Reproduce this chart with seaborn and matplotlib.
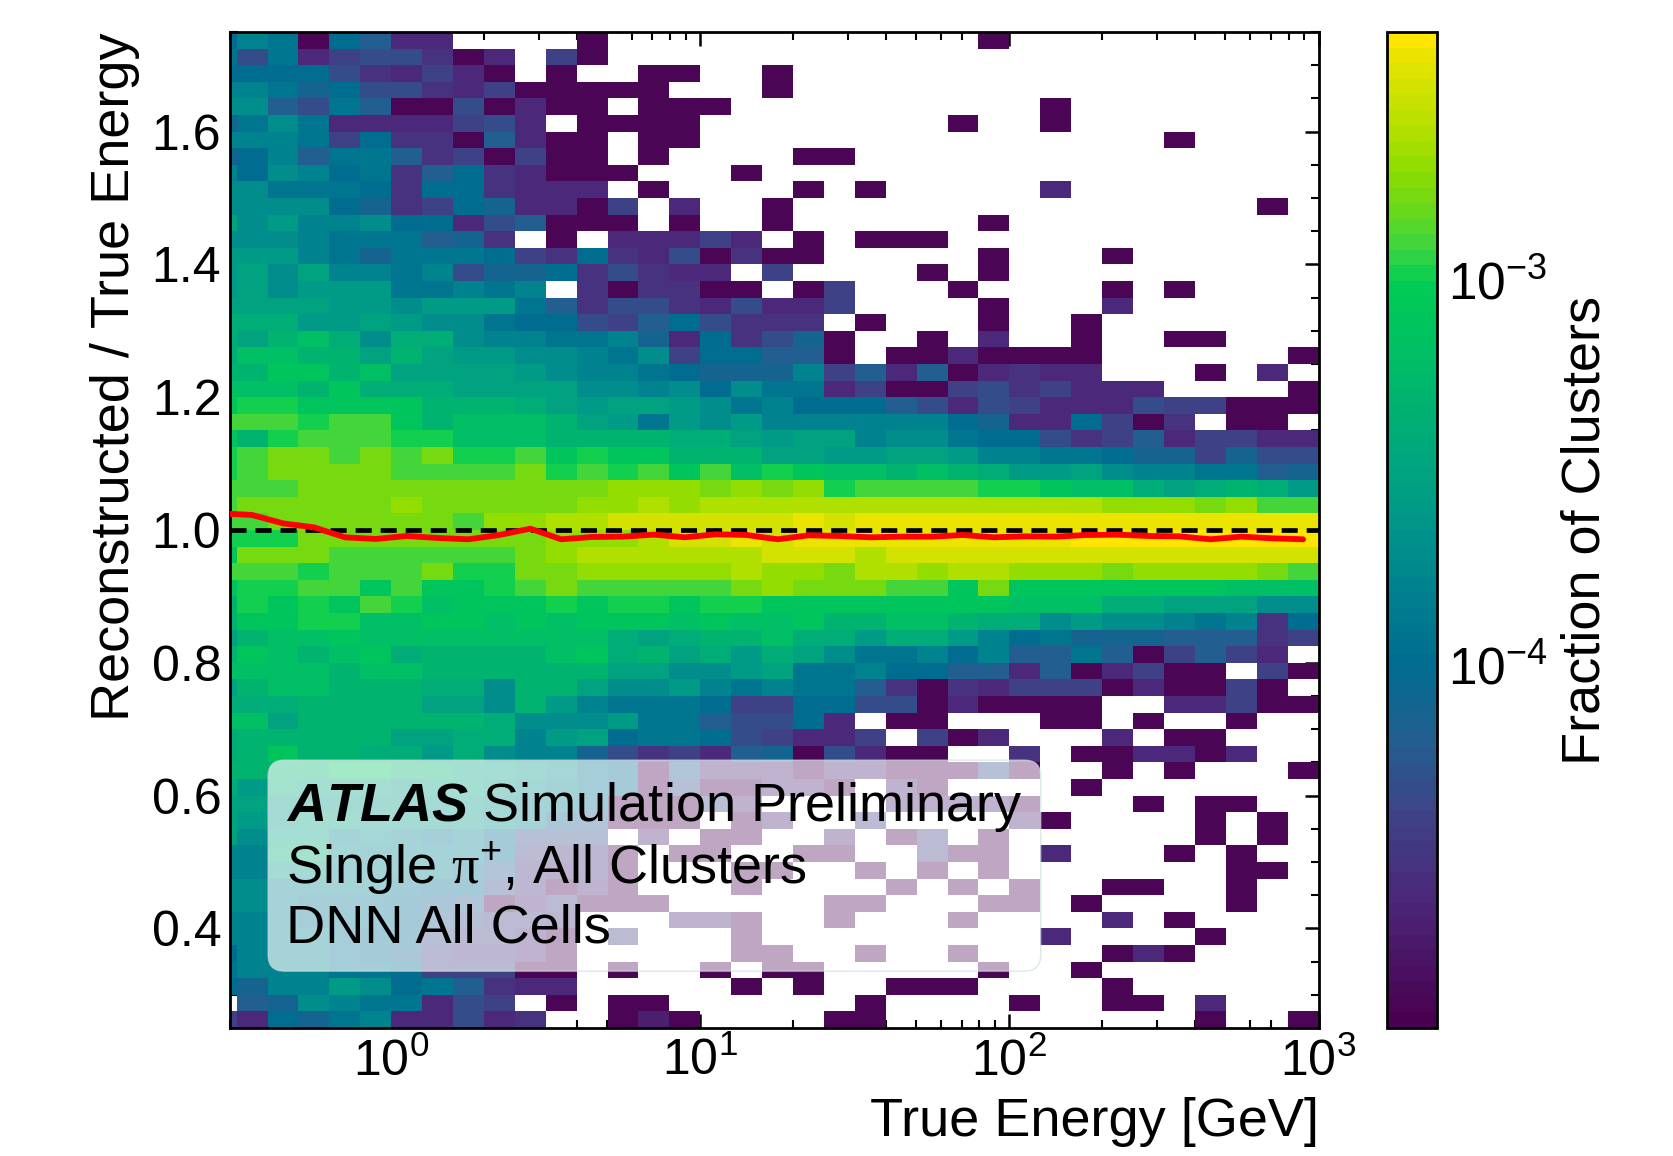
import matplotlib
matplotlib.use("Agg")
import matplotlib.pyplot as plt
import numpy as np
import pandas as pd
import seaborn as sns
from matplotlib.colors import LinearSegmentedColormap, LogNorm
from matplotlib.ticker import AutoMinorLocator, LogLocator, MultipleLocator, NullFormatter

# log10(fraction of clusters) * -10 for each cell, top row first, 0 = empty bin
log_fraction_tenths = [
    [40,38,39,49,40,42,46,46,0,0,0,0,49,0,0,0,0,0,0, 0,0,0,0,0,0,49,0,0,0,0,0,0,0,0,0,0],
    [39,43,39,46,44,43,43,45,49,46,0,44,49,0,0,0,0,0,0, 0,0,0,0,0,0,0,0,0,0,0,0,0,0,0,0,0],
    [40,40,40,40,43,45,46,44,46,49,0,49,0,0,49,49,0,0,49, 0,0,0,0,0,0,0,0,0,0,0,0,0,0,0,0,0],
    [38,38,39,41,40,43,43,45,46,44,49,49,49,49,49,0,0,0,49, 0,0,0,0,0,0,0,0,0,0,0,0,0,0,0,0,0],
    [37,37,42,43,39,42,49,49,43,49,46,49,49,0,49,49,49,0,0, 0,0,0,0,0,0,0,0,49,0,0,0,0,0,0,0,0],
    [41,39,37,39,46,46,46,46,44,43,46,0,49,49,49,49,0,0,0, 0,0,0,0,0,49,0,0,49,0,0,0,0,0,0,0,0],
    [38,38,38,39,44,40,45,45,49,42,46,49,49,0,49,49,0,0,0, 0,0,0,0,0,0,0,0,0,0,0,0,49,0,0,0,0],
    [41,40,38,42,39,39,42,45,44,49,44,49,49,0,49,0,0,0,0, 49,49,0,0,0,0,0,0,0,0,0,0,0,0,0,0,0],
    [38,40,37,38,40,39,45,42,40,45,46,49,49,49,0,0,0,49,0, 0,0,0,0,0,0,0,0,0,0,0,0,0,0,0,0,0],
    [37,37,39,39,39,40,45,40,40,45,46,46,46,0,49,0,0,0,0, 49,0,49,0,0,0,0,0,46,0,0,0,0,0,0,0,0],
    [37,37,37,37,40,41,45,44,40,41,46,46,49,44,0,46,0,0,49, 0,0,0,0,0,0,0,0,0,0,0,0,0,0,0,49,0],
    [35,37,36,38,38,37,40,40,46,43,42,49,49,49,0,49,0,0,49, 0,0,0,0,0,0,49,0,0,0,0,0,0,0,0,0,0],
    [37,37,37,38,39,39,39,42,41,45,0,49,0,46,46,46,44,46,0, 49,0,49,49,49,0,0,0,0,0,0,0,0,0,0,0,0],
    [36,36,36,38,39,41,39,39,39,40,44,45,40,45,46,43,49,45,49, 49,0,0,0,0,0,49,0,0,0,49,0,0,0,0,0,0],
    [36,35,37,35,38,38,39,38,43,41,41,40,45,43,45,46,46,0,44, 0,0,0,0,49,0,49,0,0,0,0,0,0,0,0,0,0],
    [36,35,37,36,36,36,39,39,38,39,38,0,45,49,45,45,49,49,0, 49,44,0,0,0,49,0,0,0,0,49,0,49,0,0,0,0],
    [35,35,35,35,36,36,37,36,36,36,39,42,45,43,43,45,46,43,46, 46,44,0,0,0,0,49,0,0,0,46,0,0,0,0,0,0],
    [34,34,34,36,36,35,36,37,37,39,40,40,43,44,42,40,43,45,45, 45,0,49,0,0,0,49,0,0,49,0,0,0,0,0,0,0],
    [34,35,33,32,34,37,34,34,37,38,38,39,39,38,41,46,40,45,43, 41,49,0,0,49,0,46,0,0,49,0,0,49,49,0,0,0],
    [34,32,32,33,33,35,33,35,36,36,37,37,38,39,37,44,40,40,42, 42,49,0,49,49,46,49,49,49,49,0,0,0,0,0,0,49],
    [33,33,31,31,33,32,35,35,35,35,36,37,38,38,39,40,41,41,41, 38,44,42,46,42,49,46,45,46,46,0,0,0,49,0,46,0],
    [32,32,32,33,31,34,34,34,35,35,35,35,37,37,38,37,40,37,39, 39,46,44,49,49,44,43,45,44,46,46,46,0,0,0,0,49],
    [31,30,30,31,31,31,31,33,33,33,34,35,36,35,35,36,37,39,38, 40,40,40,42,43,46,43,44,46,46,46,43,44,44,49,49,49],
    [29,29,29,30,29,29,31,33,32,32,32,33,35,36,39,36,37,36,38, 38,38,38,38,38,40,41,46,46,40,44,49,45,0,49,49,0],
    [31,33,30,29,29,29,30,30,32,32,32,33,33,33,33,34,34,35,36, 35,35,38,37,37,39,40,40,43,45,44,42,46,44,44,46,46],
    [30,29,28,28,29,28,29,28,30,30,29,31,30,31,31,33,33,33,35, 35,36,36,35,35,36,38,38,39,39,40,41,41,44,41,43,43],
    [30,29,28,28,28,28,29,29,29,29,28,30,29,30,29,31,29,32,30, 31,32,32,33,32,33,34,36,36,35,37,38,38,39,39,42,41],
    [29,29,29,28,28,28,28,28,28,28,28,28,28,27,27,27,28,27,28, 27,30,29,29,29,29,30,30,31,32,32,34,35,34,33,34,36],
    [29,28,28,28,28,28,27,28,28,28,28,28,27,27,26,27,26,26,26, 26,26,26,26,26,26,26,26,26,26,27,27,27,28,27,29,29],
    [29,29,28,28,28,28,28,28,29,27,27,26,26,25,25,25,25,25,25, 24,25,24,24,24,24,24,24,24,24,24,24,24,24,24,24,24],
    [30,30,30,28,28,28,28,28,28,28,28,27,27,27,26,25,25,24,25, 24,24,24,24,24,24,24,24,24,23,23,23,23,23,23,23,23],
    [31,28,28,28,29,29,29,29,29,29,28,27,26,26,26,26,26,26,25, 25,25,26,25,25,25,25,25,25,25,25,25,25,25,25,25,25],
    [29,29,29,30,29,29,29,28,30,30,28,28,27,27,27,27,27,26,27, 27,28,26,26,27,26,26,27,27,27,28,27,27,27,27,28,29],
    [31,30,30,29,29,31,29,31,31,30,29,28,29,29,29,29,29,28,27, 28,28,28,29,29,31,28,31,31,31,31,31,31,31,32,32,32],
    [33,30,31,30,31,29,30,32,31,31,31,30,31,30,30,31,30,30,31, 31,31,31,31,31,31,31,32,32,32,34,34,35,35,35,37,37],
    [33,31,31,30,30,32,32,31,31,32,31,32,31,31,31,32,31,32,32, 31,33,33,32,32,33,34,34,37,36,37,37,38,39,38,45,40],
    [35,33,32,32,31,32,32,32,32,32,32,32,32,34,35,34,33,33,32, 34,34,36,34,34,36,38,40,39,41,41,41,42,42,42,45,44],
    [33,31,32,33,32,31,34,33,33,33,33,32,31,34,33,35,34,36,34, 35,37,39,39,38,40,38,42,42,39,42,49,44,42,44,46,0],
    [32,32,32,32,33,32,32,33,33,33,33,33,33,35,35,37,37,36,35, 39,39,38,40,40,42,42,46,42,49,46,44,49,49,0,44,49],
    [35,33,32,32,33,33,33,34,34,37,33,33,35,37,37,36,38,39,38, 39,39,42,45,49,45,46,44,44,44,49,46,49,49,44,49,0],
    [34,34,34,33,33,33,33,35,35,37,33,36,38,39,39,39,40,44,44, 40,40,43,43,49,46,49,49,49,49,0,0,46,46,44,49,49],
    [32,32,35,33,33,33,33,33,33,34,37,37,37,36,39,39,42,43,43, 40,46,0,49,49,0,0,0,49,49,0,49,0,0,49,0,0],
    [34,33,33,33,33,33,35,35,34,34,38,36,35,40,39,39,40,43,44, 46,46,44,0,44,49,46,0,0,0,46,0,49,49,0,0,0],
    [34,33,31,33,33,34,34,36,34,37,38,38,41,43,45,44,46,42,41, 49,43,46,49,49,0,0,45,0,49,49,46,46,49,46,0,0],
    [33,33,33,33,31,31,33,33,35,35,36,37,39,40,49,42,46,46,46, 49,46,46,49,49,49,43,49,0,0,49,0,49,0,0,0,49],
    [34,36,34,35,35,35,36,35,35,36,37,38,39,40,49,43,49,49,46, 46,49,0,46,49,0,0,0,0,49,0,0,0,0,0,0,0],
    [35,35,36,36,36,36,36,36,36,37,38,38,39,49,49,49,43,46,0, 0,0,0,46,46,46,46,49,0,0,0,49,0,49,49,0,0],
    [35,36,36,35,35,36,36,36,36,37,38,41,42,49,49,49,0,49,46, 0,0,44,0,0,0,0,46,49,0,0,0,0,49,0,49,0],
    [35,37,35,35,38,37,38,39,38,40,43,43,43,0,46,0,49,49,0, 0,46,0,49,44,0,49,0,0,0,0,0,0,49,0,49,0],
    [38,38,34,34,37,38,38,38,38,40,44,45,45,49,0,49,49,0,0, 49,49,0,0,44,49,49,0,46,0,0,0,49,0,49,0,0],
    [38,38,36,36,38,38,38,38,39,42,45,46,45,49,0,0,0,49,49, 0,0,49,0,49,0,49,0,0,0,0,0,0,0,49,49,0],
    [37,37,38,38,38,38,39,40,40,43,45,49,46,49,0,0,0,49,0, 0,0,0,49,0,49,0,49,0,0,49,49,0,0,49,0,0],
    [37,37,38,39,39,39,40,41,42,49,46,44,49,49,49,0,0,0,0, 0,49,49,0,0,0,49,49,0,49,0,0,0,0,49,0,0],
    [38,38,38,39,39,39,40,42,43,44,44,45,0,0,0,46,46,49,0, 0,49,0,0,0,49,0,0,0,0,46,0,49,0,0,0,0],
    [38,38,38,38,39,40,40,43,44,44,46,49,0,44,0,0,0,49,0, 0,0,0,0,0,0,0,0,46,0,0,0,0,49,0,0,0],
    [40,38,38,38,39,40,41,44,45,45,46,49,0,0,0,0,0,49,49, 0,0,49,0,0,49,0,0,0,0,49,46,49,0,0,0,0],
    [39,38,38,38,39,39,40,44,44,44,49,49,0,49,0,0,49,0,49, 49,0,0,0,0,0,49,0,0,49,0,0,0,0,0,0,0],
    [40,41,38,38,36,37,40,39,42,45,46,46,0,0,0,0,0,49,0, 49,0,0,49,49,49,0,0,0,0,49,0,0,0,0,0,0],
    [0,42,41,37,38,39,39,46,43,44,0,49,0,49,49,0,0,0,0, 0,0,49,0,0,0,0,49,0,0,49,49,0,46,0,0,0],
    [44,46,40,41,39,38,46,46,43,46,45,0,0,49,47,49,0,0,0, 0,49,49,0,0,0,0,0,0,0,0,0,0,49,0,0,49],
]

# mean response per energy bin
mean_response = [
    1.025, 1.0226, 1.010, 1.004, 0.989, 0.9865, 0.991, 0.988, 0.986, 0.9925, 1.002, 0.986,
    0.9895, 0.990, 0.993, 0.989, 0.9935, 0.9925, 0.986, 0.992, 0.991, 0.989, 0.990, 0.990,
    0.9925, 0.989, 0.9905, 0.990, 0.9925, 0.993, 0.991, 0.9905, 0.986, 0.990, 0.9875, 0.986,
]

energy_edges_log = np.linspace(-0.6, 3.0, 37)
ratio_edges = np.linspace(0.25, 1.75, 61)

cmap_stops = [
    (0.000, "#4a0050"), (0.132, "#4b2a7b"), (0.209, "#3f4287"), (0.287, "#225f90"),
    (0.364, "#006c90"), (0.441, "#00828f"), (0.518, "#009a88"), (0.596, "#00ab78"),
    (0.673, "#00bd66"), (0.750, "#00cc55"), (0.789, "#3fd53f"), (0.827, "#6ad81a"),
    (0.866, "#8ddc00"), (0.905, "#b0e000"), (0.943, "#cce200"), (0.982, "#e8e400"),
    (1.000, "#ffe600"),
]

sns.set_theme(style="ticks")
plt.rcParams.update({
    "font.family": ["Liberation Sans", "DejaVu Sans"],
    "mathtext.fontset": "custom",
    "mathtext.rm": "Liberation Sans",
    "mathtext.it": "Liberation Sans:italic",
    "mathtext.bf": "Liberation Sans:bold",
    "mathtext.bfit": "Liberation Sans:italic:bold",
    "mathtext.cal": "Liberation Serif",
    "axes.linewidth": 2.0,
    "axes.edgecolor": "black",
    "xtick.color": "black",
    "ytick.color": "black",
    "text.color": "black",
    "axes.labelcolor": "black",
})

W, H = 1673, 1156
fig = plt.figure(figsize=(W / 100, H / 100), dpi=100)
ax = fig.add_axes([229.6 / W, 1 - 1028 / H, 1088.9 / W, 996 / H])
cax = fig.add_axes([1387 / W, 1 - 1028 / H, 50 / W, 996 / H])

levels = np.array(log_fraction_tenths, dtype=float)
energy_centers = 10 ** ((energy_edges_log[:-1] + energy_edges_log[1:]) / 2)
ratio_centers = (ratio_edges[:-1] + ratio_edges[1:]) / 2

rows, cols = np.nonzero(levels)
cells = pd.DataFrame({
    "energy": energy_centers[cols],
    "ratio": ratio_centers[::-1][rows],
    "fraction": 10 ** (-levels[rows, cols] / 10),
})

cmap = LinearSegmentedColormap.from_list("clusters", cmap_stops, N=64)
sns.histplot(
    data=cells,
    x="energy",
    y="ratio",
    weights="fraction",
    bins=[energy_edges_log, ratio_edges],
    log_scale=(True, False),
    cmap=cmap,
    norm=LogNorm(vmin=1.14e-5, vmax=4.4e-3),
    vmin=None,
    vmax=None,
    cbar=True,
    cbar_ax=cax,
    ax=ax,
)

ax.axhline(1.0, color="black", lw=3.4, ls=(0, (3.4, 1.9)), zorder=3)
sns.lineplot(x=energy_centers, y=mean_response, color="red", lw=4.2, ax=ax, zorder=4)

ax.set_xlim(0.3, 1000)
ax.set_ylim(0.25, 1.75)
ax.xaxis.set_major_locator(LogLocator(base=10, numticks=8))
ax.xaxis.set_minor_locator(LogLocator(base=10, subs=np.arange(2, 10) * 0.1, numticks=12))
ax.xaxis.set_minor_formatter(NullFormatter())
ax.yaxis.set_major_locator(MultipleLocator(0.2))
ax.yaxis.set_minor_locator(AutoMinorLocator(4))
ax.tick_params(which="major", direction="in", length=10, width=1.8, labelsize=36, top=True, right=True)
ax.tick_params(which="minor", direction="in", length=6, width=1.5, top=True, right=True)
ax.tick_params(axis="x", which="major", pad=7)
ax.tick_params(axis="y", which="major", pad=6)
ax.set_xlabel("True Energy [GeV]", fontsize=39, loc="right", labelpad=8)
ax.set_ylabel("Reconstructed / True Energy", fontsize=39, loc="top", labelpad=8)

ax.text(
    0.0518, 0.075,
    r"$\mathbfit{ATLAS}$ Simulation Preliminary" + "\n"
    + r"Single $\mathcal{π}^{+}$, All Clusters" + "\nDNN All Cells",
    transform=ax.transAxes, fontsize=39, va="bottom", ha="left", linespacing=1.15, zorder=5,
    bbox=dict(boxstyle="round,pad=0.33,rounding_size=0.3", fc="white", ec="#c9dde0", alpha=0.65, lw=1),
)

cbar = ax.collections[0].colorbar
cbar.set_label("Fraction of Clusters", fontsize=39, labelpad=9)
cax.tick_params(which="major", direction="in", length=10, width=1.6, labelsize=37, right=True, left=False, pad=8)
cax.tick_params(which="minor", direction="in", length=6, width=1.3, right=True, left=False)
cax.yaxis.set_minor_locator(LogLocator(base=10, subs=np.arange(2, 10) * 0.1, numticks=12))
cax.yaxis.set_minor_formatter(NullFormatter())
cbar.outline.set_linewidth(2.0)

fig.savefig("out.png", dpi=100)
